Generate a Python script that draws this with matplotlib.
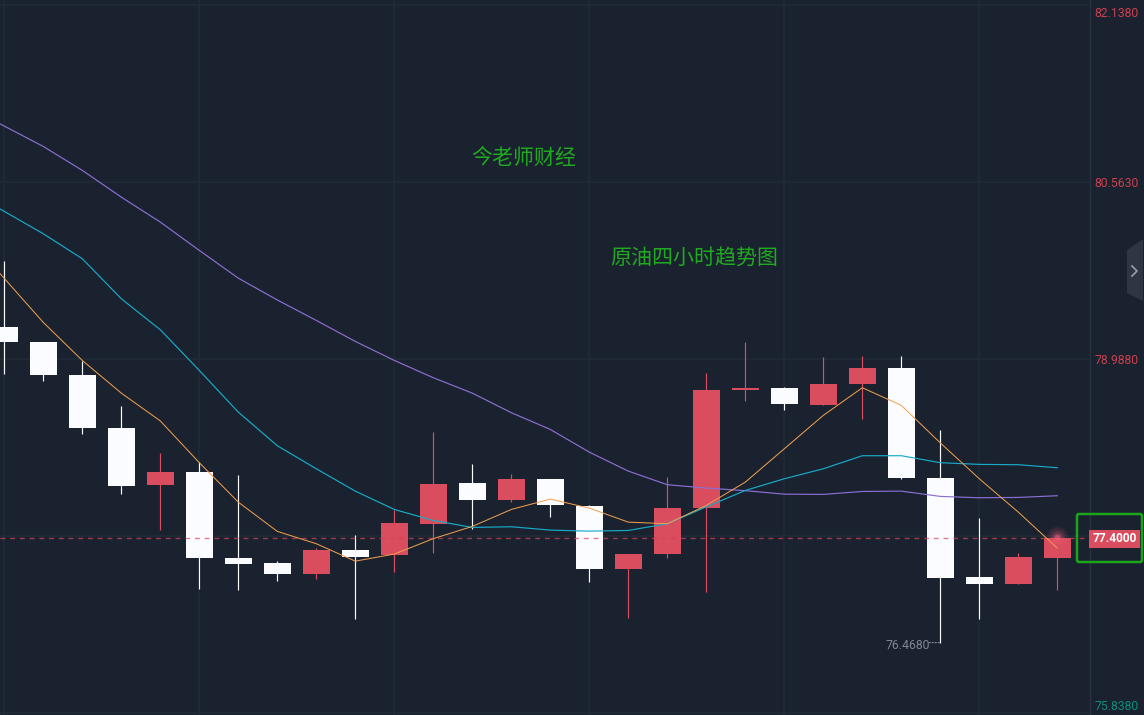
import matplotlib
matplotlib.use("Agg")
import matplotlib.pyplot as plt
from matplotlib.patches import Rectangle, FancyBboxPatch, Polygon
from matplotlib.transforms import IdentityTransform, ScaledTranslation

plt.rcParams['font.family'] = ['Roboto', 'Noto Sans CJK SC', 'DejaVu Sans']

# ---- data (prices) -------------------------------------------------------
opens = [79.273, 79.139, 78.846, 78.374, 77.867, 77.983, 77.217, 77.173, 77.075, 77.288,
         77.244, 77.520, 77.885, 77.733, 77.920, 77.680, 77.119, 77.253, 77.662, 78.712,
         78.730, 78.579, 78.766, 78.908, 77.929, 77.048, 76.986, 77.217]
closes = [79.139, 78.846, 78.374, 77.858, 77.983, 77.217, 77.164, 77.075, 77.288, 77.226,
          77.529, 77.876, 77.733, 77.920, 77.689, 77.119, 77.253, 77.662, 78.712, 78.730,
          78.588, 78.766, 78.908, 77.929, 77.039, 76.986, 77.226, 77.400]
highs = [79.860, 79.139, 78.970, 78.570, 78.152, 78.072, 77.956, 77.191, 77.306, 77.422,
         77.644, 78.338, 78.054, 77.965, 77.920, 77.689, 77.253, 77.938, 78.863, 79.139,
         78.739, 79.006, 79.015, 79.015, 78.356, 77.573, 77.262, 77.400]
lows = [78.855, 78.792, 78.321, 77.787, 77.466, 76.941, 76.933, 77.013, 77.030, 76.675,
        77.093, 77.262, 77.475, 77.716, 77.582, 77.004, 76.683, 77.217, 76.915, 78.614,
        78.534, 78.579, 78.454, 77.920, 76.468, 76.675, 76.986, 76.933]

# moving averages; first value belongs to the bar just left of the visible window
ma_short = [80.100, 79.709, 79.317, 78.979, 78.688, 78.441, 78.069, 77.718, 77.458, 77.348,
            77.193, 77.256, 77.393, 77.502, 77.653, 77.745, 77.665, 77.540, 77.526, 77.689,
            77.896, 78.193, 78.490, 78.736, 78.579, 78.245, 77.926, 77.629, 77.309]
ma_mid = [80.500, 80.305, 80.106, 79.884, 79.528, 79.252, 78.890, 78.519, 78.220, 78.015,
          77.816, 77.653, 77.555, 77.493, 77.499, 77.469, 77.460, 77.466, 77.526, 77.676,
          77.822, 77.926, 78.015, 78.131, 78.131, 78.069, 78.054, 78.051, 78.024]
ma_long = [81.250, 81.064, 80.883, 80.670, 80.432, 80.210, 79.958, 79.711, 79.517, 79.335,
           79.148, 78.979, 78.825, 78.688, 78.514, 78.365, 78.163, 77.994, 77.873, 77.843,
           77.820, 77.789, 77.787, 77.813, 77.816, 77.769, 77.757, 77.760, 77.775]

price_ticks = [82.138, 80.563, 78.988, 77.413, 75.838]
price_labels = ['82.1380', '80.5630', '78.9880', '', '75.8380']
bar_ticks = [0, 5, 10, 15, 20, 25]
last_price = 77.4
low_price = 76.468
title_a = '今老师财经'
title_b = '原油四小时趋势图'

# ---- style ---------------------------------------------------------------
BG = '#1a222f'
GRID = '#1f2a36'
RED = '#d94d5f'
WHITE = '#fbfcff'
GREEN = '#1faa1f'
W, H = 1144, 715

fig = plt.figure(figsize=(W / 100, H / 100), dpi=100, facecolor=BG)
ax = fig.add_axes([0, 0, 1090 / W, 1], facecolor=BG)
ax.set_xlim(-0.110, 27.838)
ax.set_ylim(75.824, 82.186)
for name, sp in ax.spines.items():
    sp.set_visible(name == 'right')
    sp.set_color('#263240')
    sp.set_linewidth(1.0)

ax.set_xticks(bar_ticks)
ax.set_xticklabels([])
ax.tick_params(axis='x', length=0)
ax.yaxis.tick_right()
ax.set_yticks(price_ticks)
ax.set_yticklabels(price_labels, fontsize=8.8)
ax.tick_params(axis='y', length=0, pad=3.2)
ax.grid(True, color=GRID, lw=1.4, zorder=0)
ax.set_axisbelow(True)
label_objs = ax.get_yticklabels()
for lab, col in zip(label_objs, ['#c8414f', '#c8414f', '#c8414f', '#c8414f', '#128c7a']):
    lab.set_color(col)
label_objs[0].set_va('top')
label_objs[0].set_transform(label_objs[0].get_transform() + ScaledTranslation(0, -1.5 / 72, fig.dpi_scale_trans))
label_objs[-1].set_va('bottom')

# candles
xs = list(range(len(opens)))
cols = [RED if c >= o else WHITE for o, c in zip(opens, closes)]
ax.vlines(xs, lows, highs, colors=cols, lw=0.85, zorder=2)
ax.bar(xs, [abs(c - o) for o, c in zip(opens, closes)],
       bottom=[min(o, c) for o, c in zip(opens, closes)],
       width=0.692, color=cols, linewidth=0, zorder=3)

# current price line
ax.axhline(last_price, color='#d8435a', lw=1.0, alpha=0.7, dashes=(3.5, 3.5), zorder=4)

# moving averages
ma_x = list(range(-1, len(opens)))
ax.plot(ma_x, ma_long, color='#8b6fd3', lw=0.85, zorder=5)
ax.plot(ma_x, ma_mid, color='#18abc9', lw=0.85, zorder=5)
ax.plot(ma_x, ma_short, color='#f2a04f', lw=0.72, zorder=6)

# glow on the last candle
for s, a in [(260, 0.07), (170, 0.10), (90, 0.16), (35, 0.30), (12, 0.5)]:
    ax.scatter([xs[-1]], [last_price + 0.01], s=s, color='#f0607a', alpha=a,
               linewidths=0, zorder=7)

# annotation of the low
ax.annotate(f'{low_price:.4f}', xy=(24, low_price), xytext=(-55, -3),
            textcoords='offset pixels', ha='left', va='center',
            fontsize=8.8, color='#7f8794', zorder=8)
ax.annotate('', xy=(24, low_price), xytext=(-11, 0), textcoords='offset pixels',
            arrowprops=dict(arrowstyle='-', color='#8c93a0', lw=0.8, linestyle=':',
                            shrinkA=0, shrinkB=0), zorder=8)

# captions
ax.text(11.97, 80.785, title_a, color=GREEN, fontsize=15.1, ha='left', va='center', zorder=8)
ax.text(15.54, 79.895, title_b, color=GREEN, fontsize=15.1, ha='left', va='center', zorder=8)

# ---- right-hand widgets, placed in pixels --------------------------------
ident = IdentityTransform()
def Y(y):
    return H - y

fig.add_artist(Rectangle((1089, Y(548)), 51, 18.5, transform=ident, facecolor=RED,
                         edgecolor='none', zorder=5))
fig.text(1115 / W, 1 - 539 / H, f'{last_price:.4f}', color='white', fontsize=8.6,
         fontweight='bold', ha='center', va='center', zorder=6)
fig.add_artist(FancyBboxPatch((1077, Y(562)), 65, 48,
                              boxstyle='round,pad=0,rounding_size=2', transform=ident,
                              facecolor='none', edgecolor='#1aa51a', lw=1.8, zorder=7))
# collapse tab
fig.add_artist(Polygon([(1127, Y(250)), (1143, Y(239)), (1143, Y(301)), (1127, Y(293))],
                       closed=True, transform=ident, facecolor='#2e3543', edgecolor='none', zorder=5))
fig.add_artist(plt.Line2D([1132, 1137, 1132], [Y(266), Y(271), Y(276)], transform=ident,
                          color='#9aa0ab', lw=1.2, zorder=6))

fig.savefig('out.png', dpi=100, facecolor=BG)
